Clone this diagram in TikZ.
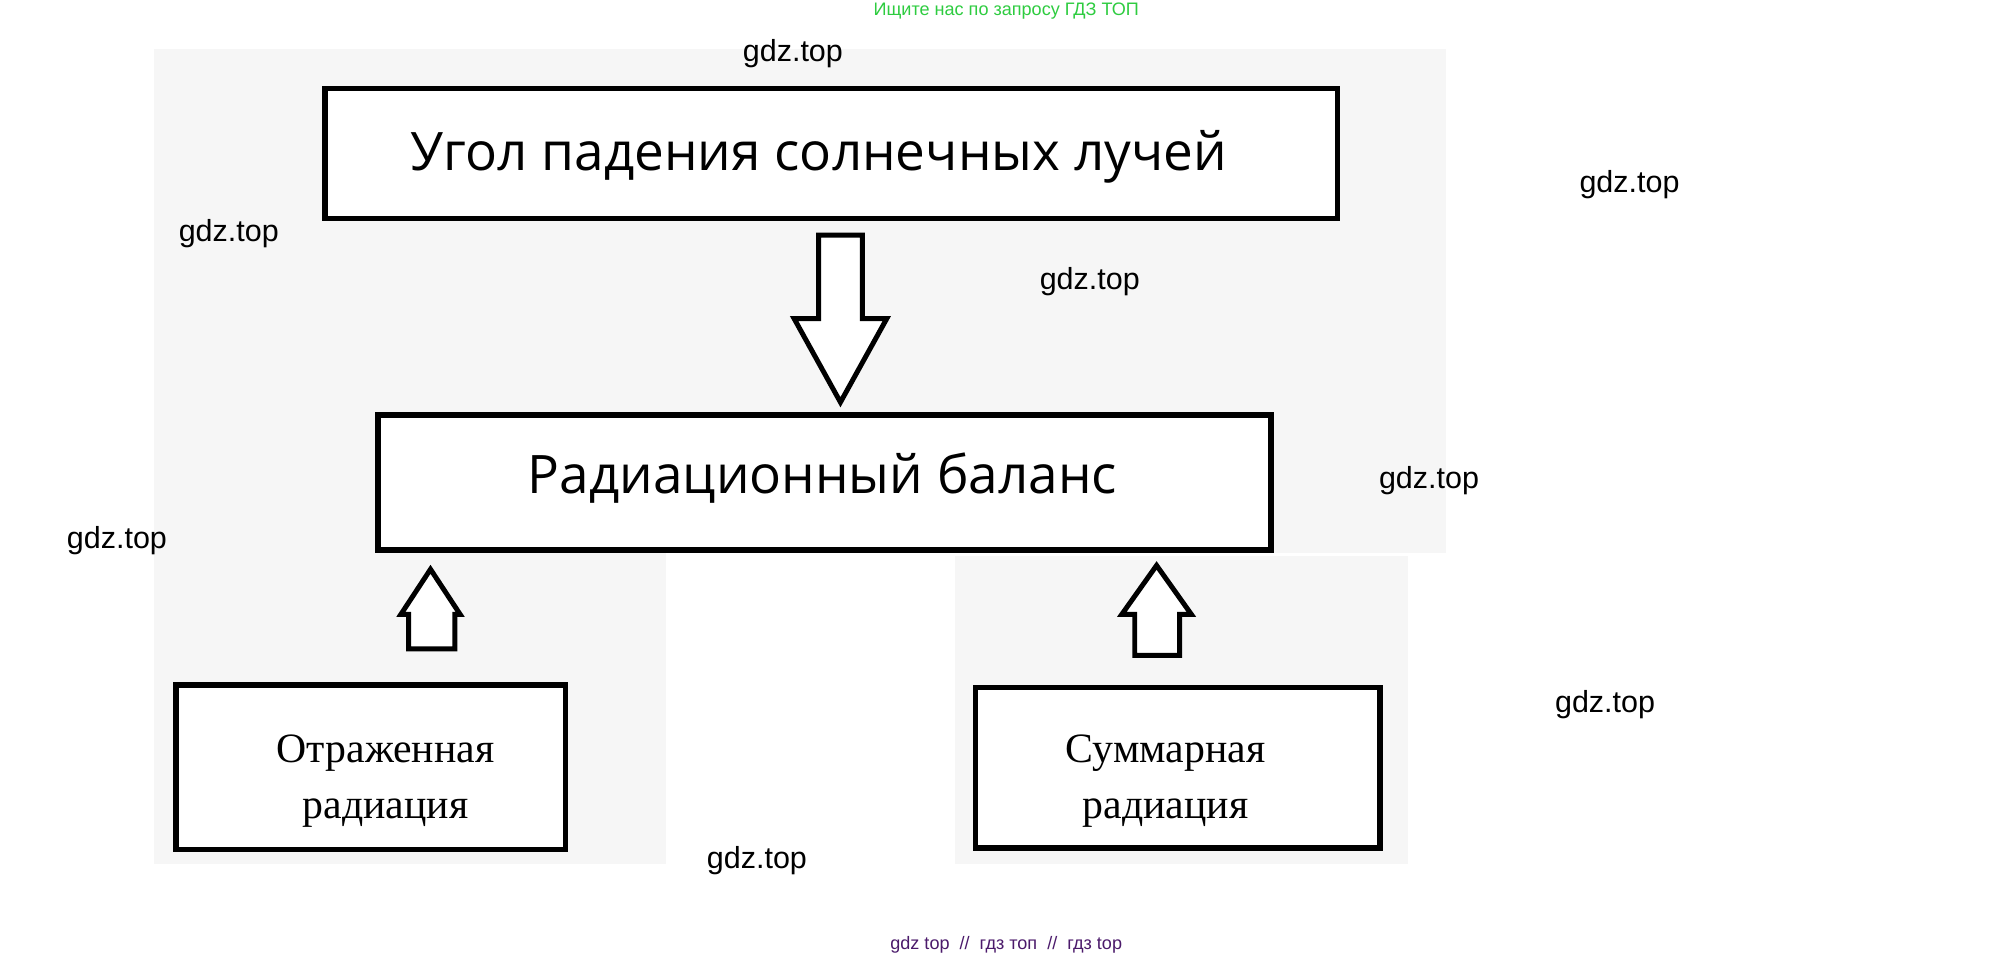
\documentclass[tikz,border=0pt]{standalone}
\usepackage{fontspec}
\setmainfont{Liberation Sans}
\newfontfamily\boxfont{Open Sans}
\newfontfamily\seriffont{Liberation Serif}
\definecolor{bggray}{HTML}{F6F6F6}
\definecolor{wmgreen}{HTML}{2ECC40}
\definecolor{wmpurple}{HTML}{4B1A6B}
\begin{document}
\begin{tikzpicture}[x=0.02cm,y=-0.02cm,
  bx/.style={draw=black,line width=2.4pt,fill=white},
  arr/.style={draw=black,line width=2.2pt,fill=white,line join=miter},
  wm/.style={font=\fontsize{13.5}{16}\selectfont,text=black}]
\useasboundingbox (0,0) rectangle (1568,746);
\fill[white] (0,0) rectangle (1568,746);
% backgrounds
\fill[bggray] (120,38) rectangle (1125,430);
\fill[bggray] (120,430) rectangle (518,672);
\fill[bggray] (743,433) rectangle (1096,672);
% boxes
\draw[bx] (253,69) rectangle (1041,170);
\node[font=\boxfont\fontsize{23.5}{28}\selectfont] (t1) at (637,122) {Угол падения солнечных лучей};
\draw[bx] (294,323) rectangle (989,428);
\node[font=\boxfont\fontsize{23.5}{28}\selectfont] (t2) at (640,372) {Радиационный баланс};
\draw[bx] (137,533) rectangle (440,661);
\fill[white] (183,553) rectangle (417,655);
\node[font=\seriffont\fontsize{18.5}{25}\selectfont,align=center] (t3) at (300,608) {Отраженная\\радиация};
\draw[bx] (759,535) rectangle (1074,660);
\fill[white] (791,553) rectangle (1025,655);
\node[font=\seriffont\fontsize{18.5}{25}\selectfont,align=center] (t4) at (907,608) {Суммарная\\радиация};
% arrows
\draw[arr] (637,183) -- (671,183) -- (671,248) -- (690,248) -- (654,313) -- (618,248) -- (637,248) -- cycle;
\draw[arr] (318,505) -- (354,505) -- (354,478) -- (358,478) -- (335,443) -- (312,478) -- (318,478) -- cycle;
\draw[arr] (883,510) -- (918,510) -- (918,478) -- (927,478) -- (900,440) -- (873,478) -- (883,478) -- cycle;
% watermarks
\foreach \p/\n in {{(617,42)}/w1,{(1268,144)}/w2,{(178,182)}/w3,{(848,219)}/w4,{(1112,374)}/w5,{(91,421)}/w6,{(1249,548)}/w7,{(589,670)}/w8}
  \node[wm] (\n) at \p {gdz.top};
\node[font=\fontsize{8}{10}\selectfont,text=wmgreen] (top) at (783,9) {Ищите нас по запросу ГДЗ ТОП};
\node[font=\fontsize{8}{10}\selectfont,text=wmpurple] (bot) at (783,735) {gdz top \ // \ гдз топ \ // \ гдз top};
\end{tikzpicture}
\end{document}
